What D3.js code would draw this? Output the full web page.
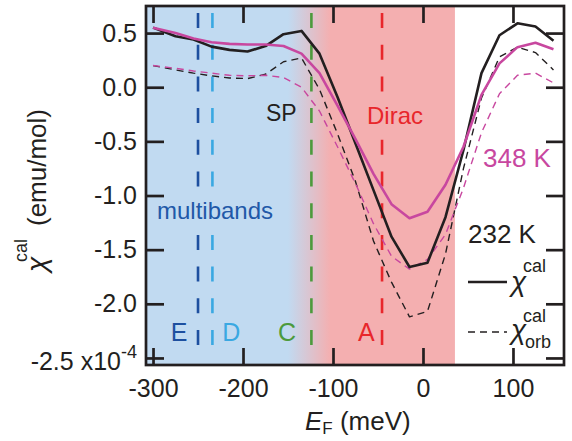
<!DOCTYPE html>
<html>
<head>
<meta charset="utf-8">
<script src="https://cdn.jsdelivr.net/npm/d3@7.9.0/dist/d3.min.js"></script>
<style>
  body { margin: 0; background: #fff; }
  svg text { font-family: "Liberation Sans", Arial, sans-serif; fill: #231f20; }
</style>
</head>
<body>
<svg id="chart" width="572" height="441"></svg>
<script>
// Fermi energy grid (meV) and susceptibilities (x10^-4 emu/mol)
const ef        = [-300, -275, -255, -235, -215, -195, -175, -155, -135, -115, -95, -75, -55, -35, -15, 5, 25, 45, 65, 85, 105, 125, 145];
const chi232    = [0.55, 0.47, 0.44, 0.375, 0.345, 0.33, 0.38, 0.49, 0.52, 0.31, -0.09, -0.52, -0.95, -1.38, -1.66, -1.62, -1.2, -0.58, 0.13, 0.48, 0.59, 0.56, 0.43];
const chi232orb = [0.2, 0.16, 0.13, 0.105, 0.085, 0.08, 0.12, 0.235, 0.27, -0.02, -0.43, -0.87, -1.42, -1.8, -2.12, -2.07, -1.54, -0.75, -0.1, 0.28, 0.37, 0.32, 0.16];
const chi348    = [0.55, 0.5, 0.45, 0.415, 0.4, 0.395, 0.395, 0.38, 0.31, 0.13, -0.17, -0.48, -0.8, -1.08, -1.21, -1.15, -0.9, -0.55, -0.07, 0.22, 0.37, 0.41, 0.35];
const chi348orb = [0.2, 0.175, 0.15, 0.13, 0.11, 0.105, 0.11, 0.09, 0.0, -0.22, -0.55, -0.89, -1.26, -1.56, -1.68, -1.59, -1.36, -0.93, -0.42, -0.06, 0.11, 0.13, 0.04];

const xTicks = [-300, -200, -100, 0, 100];
const yTicks = [0.5, 0, -0.5, -1, -1.5, -2, -2.5];

// band edges marked with dashed lines
const bandNames  = ['E', 'D', 'C', 'A'];
const bandEf     = [-250, -234, -124, -45.5];
const bandLabelX = [-271, -213, -151, -63];
const bandColors = ['#1d4f9f', '#3aa8e2', '#4c9a3c', '#e8262b'];

// shaded regions
const multiEnd = -150, diracStart = -103, diracEnd = 35.5;

const ink = '#231f20';
const magenta = '#c8479f';
const blue = '#c1daf1';
const pink = '#f4afb0';

const svg = d3.select('#chart');
const x = d3.scaleLinear().domain([-307.8, 156.7]).range([146, 564]);
const y = d3.scaleLinear().domain([-2.565, 0.75]).range([365, 6]);
const [x0, x1] = x.range();
const [y0, y1] = y.range();

// background gradient blue -> pink
const grad = svg.append('defs').append('linearGradient')
  .attr('id', 'bg')
  .attr('gradientUnits', 'userSpaceOnUse')
  .attr('x1', x(multiEnd)).attr('x2', x(diracStart))
  .attr('y1', 0).attr('y2', 0);
grad.append('stop').attr('offset', 0).attr('stop-color', blue);
grad.append('stop').attr('offset', 1).attr('stop-color', pink);

svg.append('rect')
  .attr('x', x0).attr('y', y1)
  .attr('width', x(diracEnd) - x0).attr('height', y0 - y1)
  .attr('fill', 'url(#bg)');

// vertical dashed band lines
svg.selectAll('line.band')
  .data(bandEf)
  .join('line')
  .attr('class', 'band')
  .attr('x1', d => x(d)).attr('x2', d => x(d))
  .attr('y1', 13).attr('y2', 346)
  .attr('stroke', (d, i) => bandColors[i])
  .attr('stroke-width', 2.6)
  .attr('stroke-dasharray', '15,16.7');

// labels sitting on the band lines hide them (filled behind the text)
const knock = svg.append('g');

const line = d3.line().x((d, i) => x(ef[i])).y(d => y(d));

function curve(values, color, dashed) {
  svg.append('path')
    .attr('d', line(values))
    .attr('fill', 'none')
    .attr('stroke', color)
    .attr('stroke-width', dashed ? 1.4 : 2.6)
    .attr('stroke-dasharray', dashed ? '7,5' : null)
    .attr('stroke-linejoin', 'round');
}

curve(chi232orb, ink, true);
curve(chi348orb, magenta, true);
curve(chi232, ink, false);
curve(chi348, magenta, false);

// axes with inward ticks
function styleAxis(g) {
  g.select('.domain').remove();
  g.selectAll('.tick line').attr('stroke', ink).attr('stroke-width', 2.7);
  g.selectAll('.tick text').attr('font-size', 25).attr('fill', ink);
}

svg.append('g')
  .attr('transform', `translate(0,${y0})`)
  .call(d3.axisBottom(x).tickValues(xTicks).tickSize(-17).tickSizeOuter(0)
    .tickPadding(14).tickFormat(d => String(d)))
  .call(styleAxis);

svg.append('g')
  .attr('transform', `translate(0,${y1})`)
  .call(d3.axisTop(x).tickValues(xTicks).tickSize(-17).tickSizeOuter(0).tickFormat(''))
  .call(styleAxis);

const yAxis = svg.append('g')
  .attr('transform', `translate(${x0},0)`)
  .call(d3.axisLeft(y).tickValues(yTicks).tickSize(-18).tickSizeOuter(0)
    .tickPadding(9).tickFormat(d => d.toFixed(1)))
  .call(styleAxis);

yAxis.selectAll('.tick text')
  .filter(d => d === -2.5)
  .attr('dy', '0.45em')
  .text('-2.5 x10')
  .append('tspan')
  .attr('dy', '-0.65em')
  .attr('font-size', 18)
  .text('-4');

svg.append('g')
  .attr('transform', `translate(${x1},0)`)
  .call(d3.axisRight(y).tickValues(yTicks).tickSize(-18).tickSizeOuter(0).tickFormat(''))
  .call(styleAxis);

svg.append('rect')
  .attr('x', x0).attr('y', y1)
  .attr('width', x1 - x0).attr('height', y0 - y1)
  .attr('fill', 'none').attr('stroke', ink).attr('stroke-width', 2.7);

// y title, rotated; pieces placed along the rotated baseline
const yTitle = svg.append('g').attr('transform', 'translate(46,0) rotate(-90)');
yTitle.append('text').attr('x', -272).attr('y', 0)
  .attr('font-size', 28).attr('font-style', 'italic').text('χ');
yTitle.append('text').attr('x', -262).attr('y', -19)
  .attr('font-size', 18).text('cal');
yTitle.append('text').attr('x', -226).attr('y', 0)
  .attr('font-size', 26).text('(emu/mol)');

const xTitle = svg.append('text')
  .attr('x', 305).attr('y', 430)
  .attr('font-size', 26);
xTitle.append('tspan').attr('font-style', 'italic').text('E');
xTitle.append('tspan').attr('font-size', 17).attr('dy', 4).text('F');
xTitle.append('tspan').attr('dy', -4).text(' (meV)');

// band labels
svg.selectAll('text.bandlab')
  .data(bandNames)
  .join('text')
  .attr('class', 'bandlab')
  .attr('x', (d, i) => x(bandLabelX[i]))
  .attr('y', 341)
  .attr('text-anchor', 'middle')
  .attr('font-size', 25)
  .style('fill', (d, i) => bandColors[i])
  .text(d => d);

// annotations
function hideBehind(t) {
  const b = t.node().getBBox();
  knock.append('rect')
    .attr('x', b.x - 1).attr('y', b.y)
    .attr('width', b.width + 2).attr('height', b.height)
    .attr('fill', 'url(#bg)');
}

const multi = svg.append('text').attr('x', 157).attr('y', 219).attr('font-size', 24)
  .style('fill', '#2158a8').text('multibands');
hideBehind(multi);
svg.append('text').attr('x', 266).attr('y', 121).attr('font-size', 23).text('SP');
const dirac = svg.append('text').attr('x', 367).attr('y', 124).attr('font-size', 24)
  .style('fill', '#e8262b').text('Dirac');
hideBehind(dirac);
svg.append('text').attr('x', 483).attr('y', 167).attr('font-size', 26)
  .style('fill', magenta).text('348 K');
svg.append('text').attr('x', 468).attr('y', 243).attr('font-size', 26).text('232 K');

// legend
svg.append('line').attr('x1', 468).attr('x2', 507).attr('y1', 282).attr('y2', 282)
  .attr('stroke', ink).attr('stroke-width', 2.6);
svg.append('line').attr('x1', 468).attr('x2', 507).attr('y1', 332).attr('y2', 332)
  .attr('stroke', ink).attr('stroke-width', 1.4).attr('stroke-dasharray', '7,5');

svg.append('text').attr('x', 511).attr('y', 291).attr('font-size', 28)
  .attr('font-style', 'italic').text('χ');
svg.append('text').attr('x', 523).attr('y', 272).attr('font-size', 18).text('cal');
svg.append('text').attr('x', 511).attr('y', 339).attr('font-size', 28)
  .attr('font-style', 'italic').text('χ');
svg.append('text').attr('x', 523).attr('y', 322).attr('font-size', 18).text('cal');
svg.append('text').attr('x', 525).attr('y', 348).attr('font-size', 18).text('orb');
</script>
</body>
</html>
